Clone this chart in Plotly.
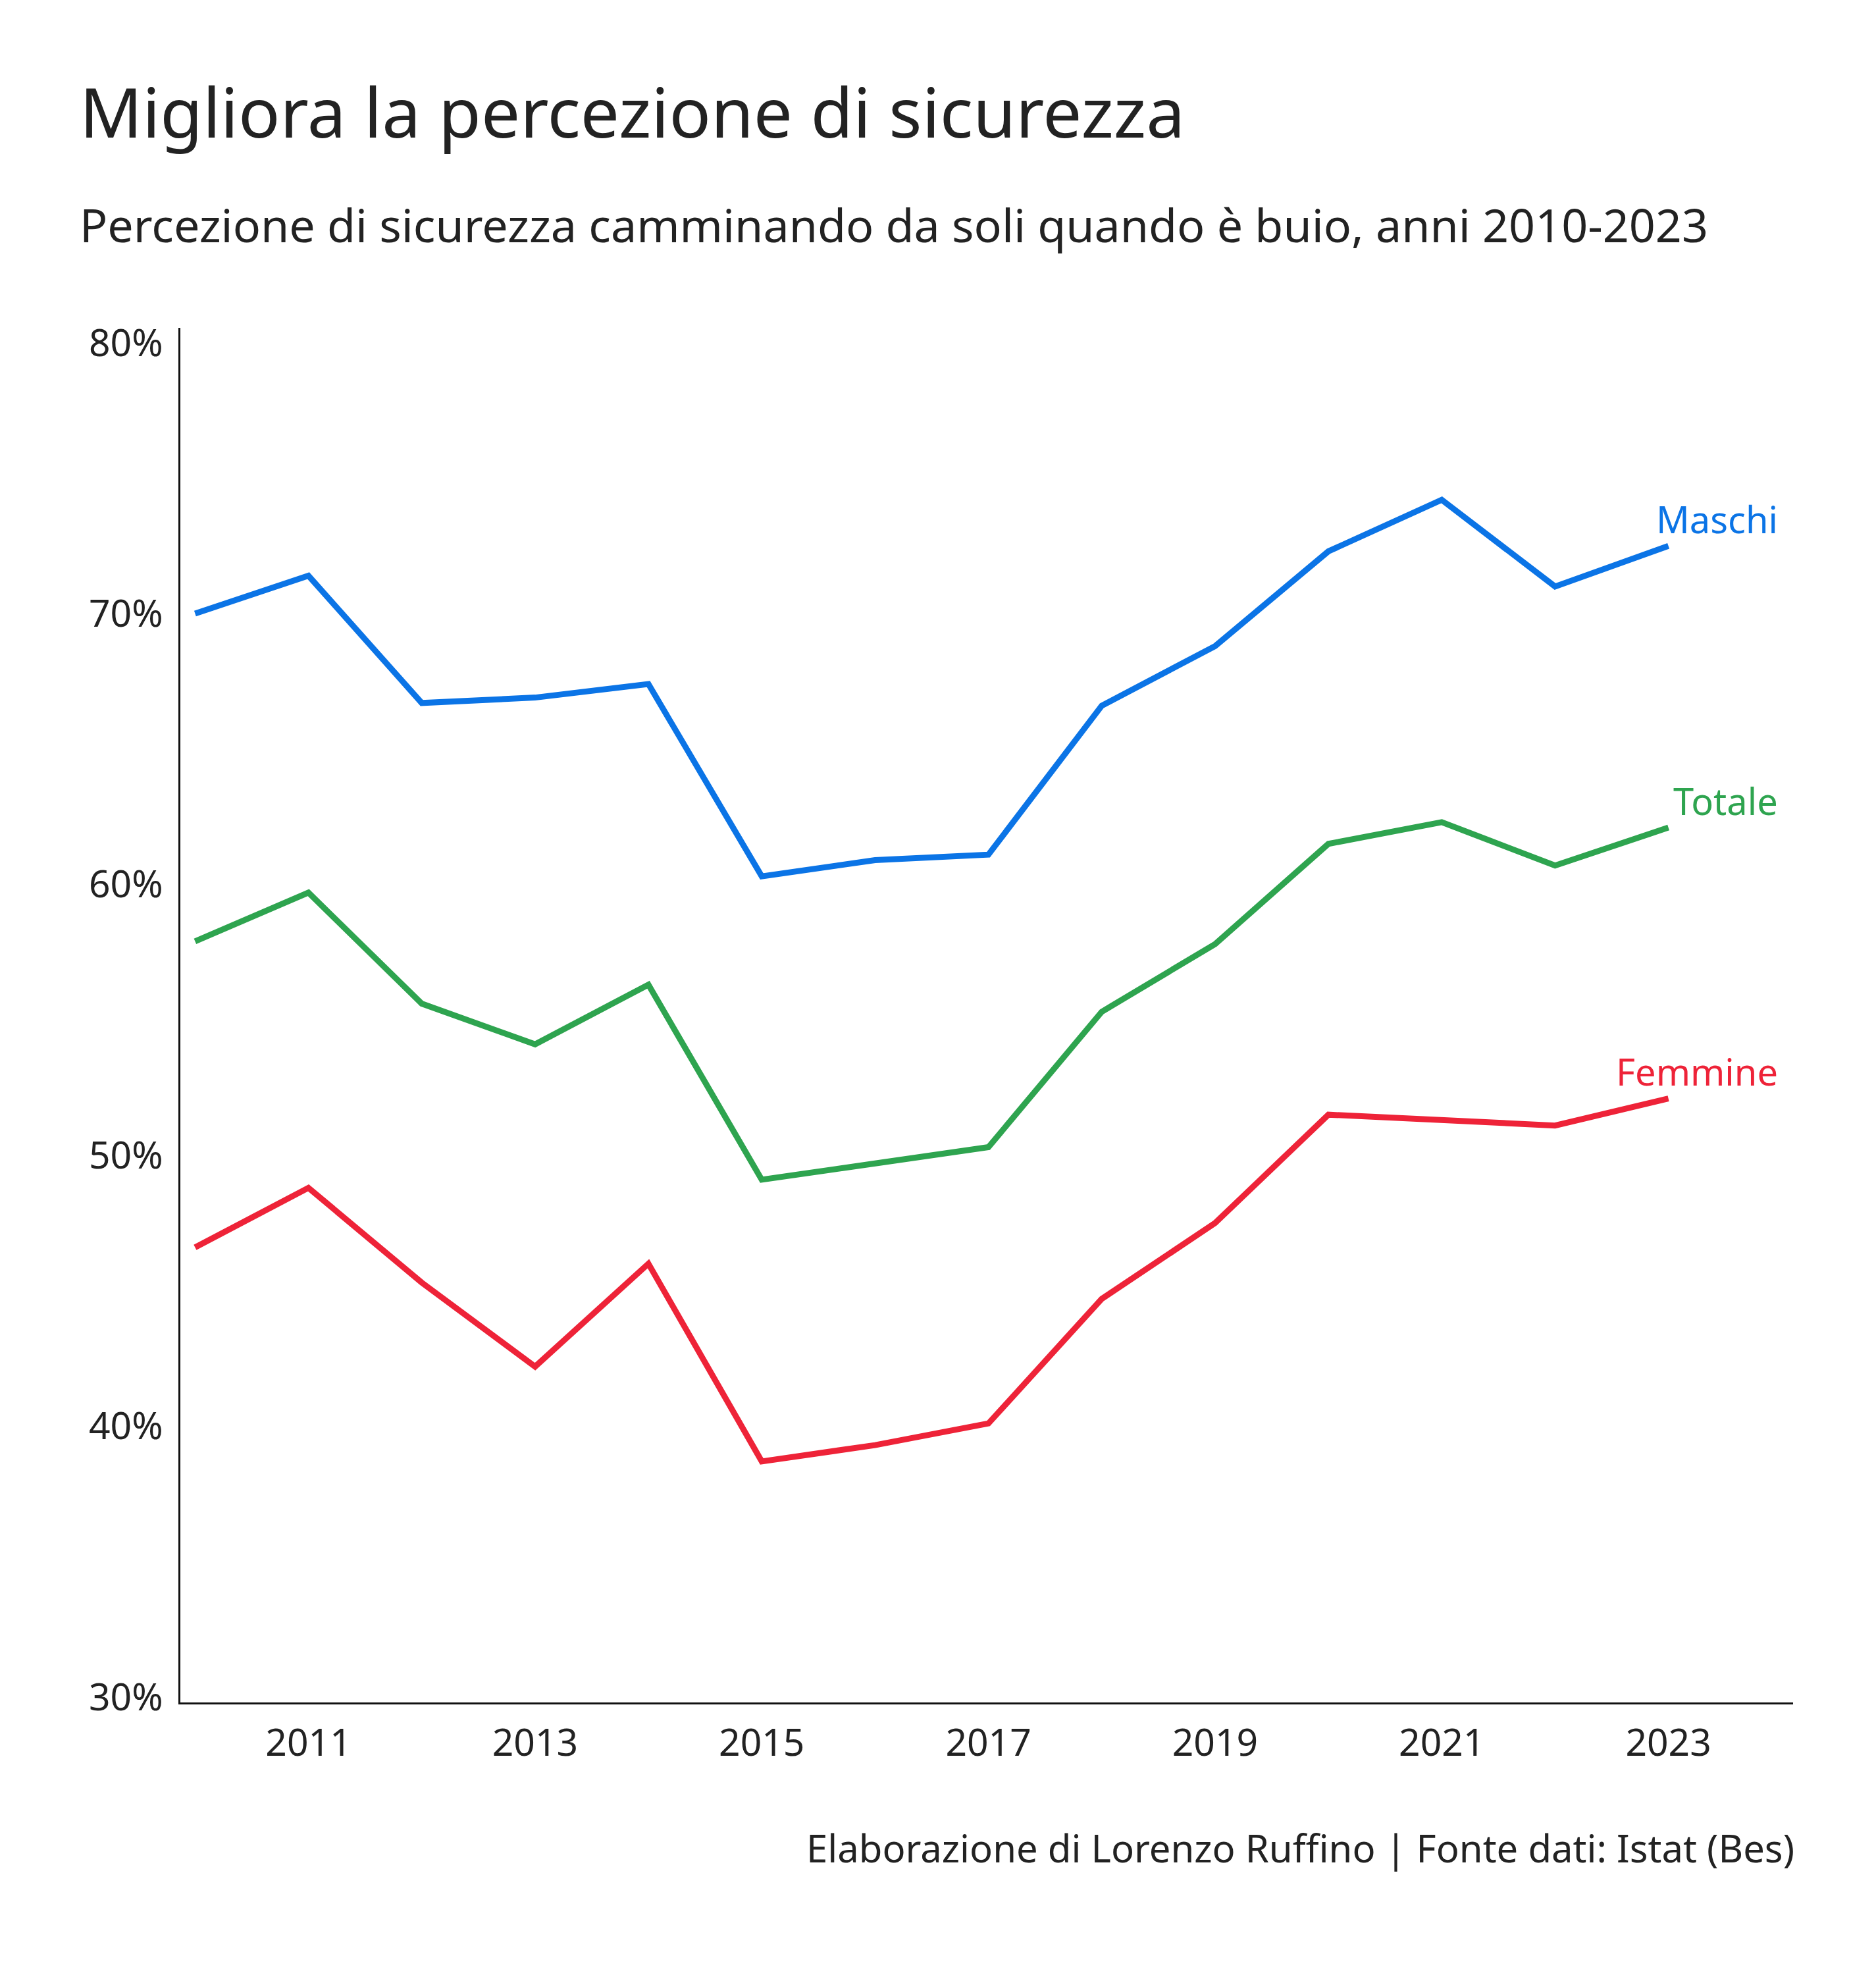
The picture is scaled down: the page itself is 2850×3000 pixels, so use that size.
import plotly.graph_objects as go

anni = list(range(2010, 2024))
maschi = [70.0, 71.4, 66.7, 66.9, 67.4, 60.3, 60.9, 61.1, 66.6, 68.8, 72.3, 74.2, 71.0, 72.5]
totale = [57.9, 59.7, 55.6, 54.1, 56.3, 49.1, 49.7, 50.3, 55.3, 57.8, 61.5, 62.3, 60.7, 62.1]
femmine = [46.6, 48.8, 45.3, 42.2, 46.0, 38.7, 39.3, 40.1, 44.7, 47.5, 51.5, 51.3, 51.1, 52.1]

serie = [("Maschi", maschi, "#0b74e6"), ("Totale", totale, "#2ea44f"), ("Femmine", femmine, "#ee2338")]
FONT = "Noto Sans"

fig = go.Figure()
for nome, val, col in serie:
    fig.add_trace(go.Scatter(x=anni, y=[v / 100 for v in val], mode="lines", name=nome,
                             line=dict(color=col, width=9)))
    fig.add_annotation(x=2023.98, y=val[-1] / 100 + 0.01, text=nome, showarrow=False,
                       xanchor="right", yanchor="middle", font=dict(family=FONT, size=56, color=col))

fig.add_annotation(xref="paper", yref="paper", x=-0.0632, y=1.1576, text="Migliora la percezione di sicurezza",
                   showarrow=False, xanchor="left", yanchor="middle", font=dict(family=FONT, size=105, color="#222"))
fig.add_annotation(xref="paper", yref="paper", x=-0.0632, y=1.0752,
                   text="Percezione di sicurezza camminando da soli quando è buio, anni 2010-2023",
                   showarrow=False, xanchor="left", yanchor="middle", font=dict(family=FONT, size=70, color="#222"))
fig.add_annotation(xref="paper", yref="paper", x=1.0016, y=-0.1058,
                   text="Elaborazione di Lorenzo Ruffino | Fonte dati: Istat (Bes)",
                   showarrow=False, xanchor="right", yanchor="middle", font=dict(family=FONT, size=58, color="#222"))

fig.update_layout(
    width=2850, height=3000, plot_bgcolor="white", paper_bgcolor="white", showlegend=False,
    margin=dict(l=266, r=134, t=490, b=422),
    font=dict(family=FONT, size=57, color="#222"),
)
fig.update_xaxes(range=[2009.87, 2024.1], tickvals=list(range(2011, 2024, 2)), showgrid=False,
                 showline=True, linecolor="#111", linewidth=3, ticks="", ticklabelstandoff=10)
fig.update_yaxes(range=[0.298, 0.8055], tickvals=[0.3, 0.4, 0.5, 0.6, 0.7, 0.8], tickformat=".0%",
                 showgrid=False, showline=True, linecolor="#111", linewidth=3, ticks="", zeroline=False,
                 ticklabelstandoff=12)

fig.write_html("out.html")
